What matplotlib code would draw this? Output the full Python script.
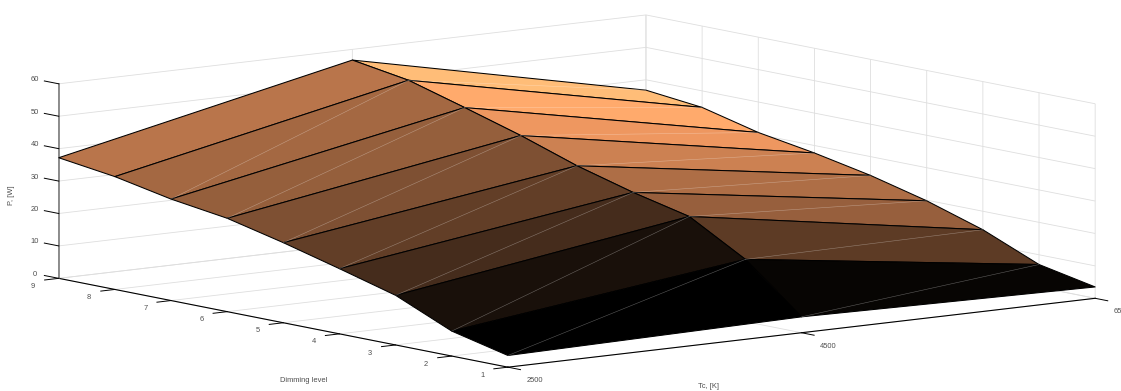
import matplotlib
matplotlib.use('Agg')
import numpy as np
from matplotlib import pyplot as plt
from matplotlib import cm
from matplotlib.colors import Normalize

tc = [2500, 4500, 6500]
dimming = [1, 2, 3, 4, 5, 6, 7, 8, 9]
p_2500 = [3.6, 7.7, 15.3, 20.1, 24.7, 28.8, 31.3, 34.8, 37.2]
p_4500 = [4.9, 19.2, 29.0, 33.0, 37.8, 43.7, 48.9, 53.9, 56.7]
p_6500 = [3.5, 7.0, 14.3, 19.8, 24.2, 27.7, 30.6, 34.9, 36.8]
z_ticks = [0, 10, 20, 30, 40, 50, 60]

plt.rcParams['font.family'] = ['Liberation Sans', 'DejaVu Sans']
plt.rcParams['font.size'] = 5.4
plt.rcParams['grid.color'] = '#dedede'
plt.rcParams['grid.linewidth'] = 0.6
TXT = '#4d4d4d'


def main():
    w, h = 1121, 391
    fig = plt.figure(figsize=(w / 100, h / 100), dpi=100)

    # square axes much taller than the figure, centred on the box middle
    side = 1032
    cx, cy = 563, 186
    ax = fig.add_axes([(cx - side / 2) / w, (cy - side / 2) / h, side / w, side / h],
                      projection='3d', proj_type='ortho', computed_zorder=False)
    ax.patch.set_alpha(0)
    ax.view_init(elev=8.76, azim=-127.6)
    ax.set_box_aspect((743, 738, 197.3))

    X, Y = np.meshgrid(tc, dimming)
    Z = np.column_stack([p_2500, p_4500, p_6500])
    norm = Normalize(Z.min(), Z.max())
    surf = ax.plot_surface(X, Y, Z, facecolors=cm.copper(norm(Z)), rstride=1, cstride=1,
                           shade=False, linewidth=0.75, edgecolor='black', zorder=2)
    surf.set_clip_on(False)

    # triangle seams of the original render
    for j in range(len(tc) - 1):
        for i in range(len(dimming) - 1):
            if j == 0 and i == len(dimming) - 2:
                continue
            ax.plot([tc[j], tc[j + 1]], [dimming[i], dimming[i + 1]], [Z[i, j], Z[i + 1, j + 1]],
                    color='white', lw=0.4, alpha=0.35, zorder=3, clip_on=False)

    ax.set_xlim(tc[0], tc[-1])
    ax.set_ylim(dimming[0], dimming[-1])
    ax.set_zlim(z_ticks[0], z_ticks[-1])
    ax.set_xticks(tc)
    ax.set_yticks(dimming)
    ax.set_zticks(z_ticks)
    ax.tick_params(axis='both', labelcolor=TXT, labelsize=5.4)
    ax.tick_params(axis='x', pad=15)
    ax.tick_params(axis='y', pad=9)
    ax.tick_params(axis='z', pad=1)
    for axis in (ax.xaxis, ax.yaxis, ax.zaxis):
        for t in axis.get_major_ticks():
            t.label1.set_va('bottom')

    # z ticks run along the y direction in the original
    ax.zaxis._get_tickdir = lambda position: 1

    # (inward, outward): which one points out of the box depends on the axis
    tick_factor = {'x': (0.35, 0), 'y': (0.3, 0), 'z': (0, 0.4)}
    for name, axis in (('x', ax.xaxis), ('y', ax.yaxis), ('z', ax.zaxis)):
        axis.set_pane_color((1, 1, 1, 0))
        axis.pane.set_edgecolor('#d8d8d8')
        axis.line.set_color('black')
        axis.line.set_linewidth(0.8)
        axis._axinfo['tick']['inward_factor'] = tick_factor[name][0]
        axis._axinfo['tick']['outward_factor'] = tick_factor[name][1]
        axis._axinfo['tick']['color'] = 'black'
        axis._axinfo['tick']['linewidth'] = {True: 0.7, False: 0.7}
    ax.zaxis.line.set_color('#707070')
    ax.zaxis.line.set_linewidth(1.1)

    fig.text(708 / w, 1 - 386 / h, 'Tc, [K]', color=TXT, ha='center', va='center')
    fig.text(304 / w, 1 - 381 / h, 'Dimming level', color=TXT, ha='center', va='center')
    fig.text(12 / w, 1 - 195 / h, 'P, [W]', color=TXT, ha='center', va='center', rotation=90)

    fig.savefig('out.png', dpi=100)


if __name__ == '__main__':
    main()
